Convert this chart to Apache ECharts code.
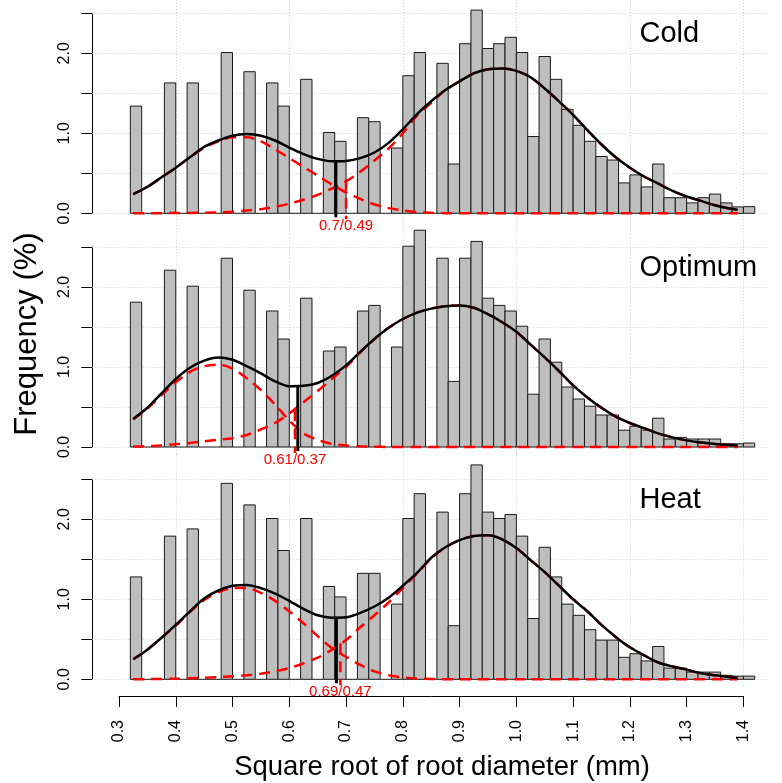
<!DOCTYPE html>
<html>
<head>
<meta charset="utf-8">
<script src="https://cdn.jsdelivr.net/npm/echarts@6/dist/echarts.min.js"></script>
<style>
  html, body { margin: 0; padding: 0; background: #ffffff; }
  #chart { width: 782px; height: 783px; }
</style>
</head>
<body>
<div id="chart"></div>
<script>
// Histogram bin edges (square root of root diameter, mm)
const binEdges = [
  0.32, 0.34, 0.36, 0.38, 0.40, 0.42, 0.44, 0.46, 0.48, 0.50,
  0.52, 0.54, 0.56, 0.58, 0.60, 0.62, 0.64, 0.66, 0.68, 0.70,
  0.72, 0.74, 0.76, 0.78, 0.80, 0.82, 0.84, 0.86, 0.88, 0.90,
  0.92, 0.94, 0.96, 0.98, 1.00, 1.02, 1.04, 1.06, 1.08, 1.10,
  1.12, 1.14, 1.16, 1.18, 1.20, 1.22, 1.24, 1.26, 1.28, 1.30,
  1.32, 1.34, 1.36, 1.38, 1.40, 1.42
];

// Frequency (%) per bin
const coldFreq = [
  1.34, 0, 0, 1.63, 0, 1.63, 0, 0, 2.01, 0,
  1.77, 0, 1.63, 1.34, 0, 1.675, 0, 1.01, 0.90, 0,
  1.195, 1.145, 0, 0.816, 1.72, 2.01, 0, 1.875, 0.616, 2.12,
  2.54, 2.06, 2.12, 2.20, 2.01, 0.96, 1.96, 1.675, 1.30, 1.10,
  0.90, 0.71, 0.666, 0.38, 0.48, 0.33, 0.616, 0.195, 0.195, 0.13,
  0.195, 0.24, 0.13, 0.08, 0.083
];
const optimumFreq = [
  1.81, 0, 0, 2.21, 0, 2.01, 0, 0, 2.36, 0,
  1.96, 0, 1.70, 1.35, 0, 1.86, 0, 1.20, 1.25, 0,
  1.70, 1.77, 0, 1.25, 2.51, 2.71, 0, 2.36, 0.82, 2.36,
  2.57, 1.86, 1.77, 1.70, 1.51, 0.66, 1.35, 1.06, 0.75, 0.60,
  0.51, 0.40, 0.40, 0.21, 0.26, 0.21, 0.36, 0.10, 0.12, 0.10,
  0.10, 0.10, 0.04, 0.04, 0.05
];
const heatFreq = [
  1.28, 0, 0, 1.79, 0, 1.88, 0, 0, 2.45, 0,
  2.18, 0, 2.01, 1.61, 0, 2.01, 0, 1.16, 1.03, 0,
  1.325, 1.325, 0, 0.94, 2.01, 2.32, 0, 2.09, 0.67, 2.32,
  2.68, 2.09, 2.01, 2.06, 1.79, 0.76, 1.65, 1.28, 0.94, 0.80,
  0.62, 0.49, 0.49, 0.275, 0.32, 0.23, 0.41, 0.14, 0.14, 0.09,
  0.09, 0.09, 0.05, 0.04, 0.04
];

// Fitted density curves, sampled along the diameter axis
const curveX = [
  0.325, 0.35, 0.375, 0.40, 0.425, 0.45, 0.475, 0.50, 0.525, 0.55, 0.575,
  0.60, 0.625, 0.65, 0.675, 0.70, 0.725, 0.75, 0.775, 0.80, 0.825, 0.85,
  0.875, 0.90, 0.925, 0.95, 0.975, 1.00, 1.025, 1.05, 1.075, 1.10, 1.125,
  1.15, 1.175, 1.20, 1.225, 1.25, 1.275, 1.30, 1.325, 1.35, 1.375, 1.39
];

const coldTotal = [
  0.24, 0.33, 0.45, 0.57, 0.70, 0.83, 0.91, 0.97, 0.99, 0.97, 0.91,
  0.82, 0.74, 0.68, 0.65, 0.655, 0.69, 0.76, 0.88, 1.05, 1.24, 1.40,
  1.54, 1.65, 1.75, 1.80, 1.81, 1.78, 1.70, 1.56, 1.40, 1.23, 1.04,
  0.86, 0.70, 0.57, 0.46, 0.37, 0.28, 0.21, 0.155, 0.10, 0.06, 0.045
];
const coldFine = [
  0.24, 0.33, 0.45, 0.57, 0.70, 0.82, 0.90, 0.95, 0.95, 0.90, 0.80,
  0.69, 0.58, 0.47, 0.36, 0.26, 0.18, 0.11, 0.065, 0.035, 0.015, 0.006,
  0.002, 0, 0, 0, 0, 0, 0, 0, 0, 0, 0,
  0, 0, 0, 0, 0, 0, 0, 0, 0, 0, 0
];
const coldCoarse = [
  0, 0, 0.002, 0.003, 0.005, 0.008, 0.012, 0.02, 0.035, 0.05, 0.08,
  0.12, 0.17, 0.23, 0.31, 0.40, 0.52, 0.66, 0.81, 1.00, 1.22, 1.38,
  1.54, 1.65, 1.75, 1.80, 1.81, 1.78, 1.70, 1.56, 1.40, 1.23, 1.04,
  0.86, 0.70, 0.57, 0.46, 0.37, 0.28, 0.21, 0.155, 0.10, 0.06, 0.045
];

const optimumTotal = [
  0.35, 0.49, 0.67, 0.85, 0.99, 1.08, 1.12, 1.09, 1.01, 0.92, 0.82,
  0.76, 0.765, 0.80, 0.89, 1.02, 1.19, 1.35, 1.49, 1.60, 1.68, 1.73,
  1.76, 1.77, 1.74, 1.66, 1.56, 1.44, 1.28, 1.12, 0.95, 0.77, 0.62,
  0.49, 0.38, 0.30, 0.235, 0.17, 0.12, 0.083, 0.055, 0.038, 0.025, 0.02
];
const optimumFine = [
  0.345, 0.48, 0.65, 0.81, 0.94, 1.01, 1.03, 0.98, 0.86, 0.71, 0.53,
  0.33, 0.17, 0.09, 0.04, 0.018, 0.008, 0.003, 0.001, 0, 0, 0,
  0, 0, 0, 0, 0, 0, 0, 0, 0, 0, 0,
  0, 0, 0, 0, 0, 0, 0, 0, 0, 0, 0
];
const optimumCoarse = [
  0.005, 0.01, 0.018, 0.035, 0.05, 0.07, 0.09, 0.11, 0.15, 0.22, 0.30,
  0.42, 0.56, 0.70, 0.85, 1.00, 1.18, 1.35, 1.49, 1.60, 1.68, 1.73,
  1.76, 1.77, 1.74, 1.66, 1.56, 1.44, 1.28, 1.12, 0.95, 0.77, 0.62,
  0.49, 0.38, 0.30, 0.235, 0.17, 0.12, 0.083, 0.055, 0.038, 0.025, 0.02
];

const heatTotal = [
  0.25, 0.37, 0.52, 0.68, 0.85, 1.01, 1.11, 1.17, 1.18, 1.14, 1.07,
  0.98, 0.88, 0.80, 0.77, 0.775, 0.83, 0.91, 1.02, 1.17, 1.33, 1.52,
  1.65, 1.74, 1.79, 1.80, 1.75, 1.64, 1.49, 1.34, 1.17, 1.00, 0.85,
  0.68, 0.53, 0.40, 0.30, 0.21, 0.16, 0.12, 0.075, 0.05, 0.03, 0.015
];
const heatFine = [
  0.25, 0.37, 0.52, 0.67, 0.84, 0.99, 1.09, 1.14, 1.14, 1.08, 0.98,
  0.85, 0.70, 0.54, 0.39, 0.28, 0.18, 0.10, 0.05, 0.025, 0.01, 0.005,
  0, 0, 0, 0, 0, 0, 0, 0, 0, 0, 0,
  0, 0, 0, 0, 0, 0, 0, 0, 0, 0, 0
];
const heatCoarse = [
  0.001, 0.002, 0.004, 0.007, 0.012, 0.018, 0.027, 0.038, 0.05, 0.07, 0.10,
  0.14, 0.20, 0.27, 0.37, 0.49, 0.65, 0.80, 0.96, 1.14, 1.32, 1.51,
  1.65, 1.74, 1.79, 1.80, 1.75, 1.64, 1.49, 1.34, 1.17, 1.00, 0.85,
  0.68, 0.53, 0.40, 0.30, 0.21, 0.16, 0.12, 0.075, 0.05, 0.03, 0.015
];

// Panel names and the fine/coarse root threshold of each treatment
const panelNames = ['Cold', 'Optimum', 'Heat'];
const cutSqrt = [0.7, 0.61, 0.69];
const cutDiam = [0.49, 0.37, 0.47];
const cutReach = [0.42, 0.46, 0.45];
const dipX = [0.682, 0.615, 0.683];
const dipY = [0.645, 0.76, 0.77];

// Axis ticks and reference grid
const xTickMin = 0.3, xTickMax = 1.4, xTickStep = 0.1;
const yTickMax = 2.5, yTickStep = 0.5;
const gridX = [0.4, 0.6, 0.8, 1.0, 1.2, 1.4];
const gridY = [0, 0.5, 1.0, 1.5, 2.0, 2.5];

const freqs = [coldFreq, optimumFreq, heatFreq];
const totals = [coldTotal, optimumTotal, heatTotal];
const fines = [coldFine, optimumFine, heatFine];
const coarses = [coldCoarse, optimumCoarse, heatCoarse];

// ---- layout ----
const FONT = '"Liberation Sans", Arial, Helvetica, sans-serif';
const PX_PER_Y = 80;            // pixels per 1 % of frequency
const baseY = [213.3, 447, 679.3];
const panelTop = [2.666, 2.81, 2.81];
const panelBottom = -0.11;
const plotLeft = 92.3, plotWidth = 676.1;
const xMin = 0.253, xMax = 1.444;
const bottomAxisY = 696;

const grids = [], xAxes = [], yAxes = [], series = [];

for (let p = 0; p < 3; p++) {
  const top = baseY[p] - panelTop[p] * PX_PER_Y;
  const height = (panelTop[p] - panelBottom) * PX_PER_Y;
  grids.push({ left: plotLeft, width: plotWidth, top: top, height: height });
  xAxes.push({ type: 'value', gridIndex: p, min: xMin, max: xMax, show: false });
  yAxes.push({ type: 'value', gridIndex: p, min: panelBottom, max: panelTop[p], show: false });
}
// left axes spanning 0..2.5 for each panel
for (let p = 0; p < 3; p++) {
  grids.push({ left: plotLeft, width: 1, top: baseY[p] - yTickMax * PX_PER_Y, height: yTickMax * PX_PER_Y });
  xAxes.push({ type: 'value', gridIndex: 3 + p, min: 0, max: 1, show: false });
  yAxes.push({
    type: 'value', gridIndex: 3 + p, min: 0, max: yTickMax, interval: yTickStep,
    axisLine: { show: true, lineStyle: { color: '#000', width: 1 } },
    axisTick: { show: true, length: 11, lineStyle: { color: '#000', width: 1 } },
    splitLine: { show: false },
    axisLabel: {
      rotate: 90, margin: 20, color: '#000', fontSize: 16, fontFamily: FONT,
      formatter: v => (Math.abs(v - Math.round(v)) < 1e-6 ? v.toFixed(1) : '')
    }
  });
}
// shared bottom axis
grids.push({ left: 119, right: 782 - 743.5, top: bottomAxisY - 6, height: 6 });
xAxes.push({
  type: 'value', gridIndex: 6, min: xTickMin, max: xTickMax, interval: xTickStep,
  axisLine: { show: true, onZero: false, lineStyle: { color: '#000', width: 1 } },
  axisTick: { show: true, length: 11, lineStyle: { color: '#000', width: 1 } },
  splitLine: { show: false },
  axisLabel: {
    rotate: 90, margin: 24, color: '#000', fontSize: 16, fontFamily: FONT,
    formatter: v => v.toFixed(1)
  }
});
yAxes.push({ type: 'value', gridIndex: 6, min: 0, max: 1, show: false });

// dotted reference lines spanning the whole plotting region
function renderGridLine(params, api) {
  const cs = params.coordSys;
  const v = api.value(0), horizontal = api.value(1) === 1;
  const style = { stroke: '#D3D3D3', lineWidth: 1, lineDash: [1, 2] };
  if (horizontal) {
    const y = Math.round(api.coord([xMin, v])[1]) + 0.5;
    return { type: 'line', shape: { x1: cs.x, y1: y, x2: cs.x + cs.width, y2: y }, style };
  }
  const x = Math.round(api.coord([v, 0])[0]) + 0.5;
  return { type: 'line', shape: { x1: x, y1: cs.y, x2: x, y2: cs.y + cs.height }, style };
}

function renderBin(params, api) {
  const lo = api.value(0), hi = api.value(1), f = api.value(2);
  const a = api.coord([lo, f]);
  const b = api.coord([hi, 0]);
  if (!(f > 0)) {
    return { type: 'line', shape: { x1: a[0], y1: b[1], x2: b[0], y2: b[1] },
             style: { stroke: '#1a1a1a', lineWidth: 1 } };
  }
  return {
    type: 'rect',
    shape: { x: a[0], y: a[1], width: b[0] - a[0], height: b[1] - a[1] },
    style: { fill: '#BEBEBE', stroke: '#1a1a1a', lineWidth: 1 }
  };
}

function makeCutRenderer(label) {
  return function (params, api) {
    const dTop = api.coord([api.value(0), api.value(1)]);
    const dBot = api.coord([api.value(0), 0]);
    const cTop = api.coord([api.value(2), api.value(3)]);
    const cBot = api.coord([api.value(2), 0]);
    return {
      type: 'group',
      children: [
        { type: 'line', shape: { x1: dTop[0], y1: dTop[1], x2: dBot[0], y2: dBot[1] + 4 },
          style: { stroke: '#000', lineWidth: 3 } },
        { type: 'line', shape: { x1: cTop[0], y1: cTop[1], x2: cBot[0], y2: cBot[1] + 6 },
          style: { stroke: '#FF0000', lineWidth: 2.5, lineDash: [11, 7] } },
        { type: 'text', x: cBot[0], y: cBot[1] + 13,
          style: { text: label, fill: '#FF0000', font: '15px ' + FONT,
                   align: 'center', verticalAlign: 'middle' } }
      ]
    };
  };
}

for (let p = 0; p < 3; p++) {
  // reference grid beneath the bars
  series.push({
    type: 'custom', xAxisIndex: p, yAxisIndex: p, z: 1, silent: true, clip: false,
    renderItem: renderGridLine,
    data: gridX.map(v => [v, 0]).concat(gridY.map(v => [v, 1]))
  });
  // histogram
  series.push({
    type: 'custom', xAxisIndex: p, yAxisIndex: p, z: 2, clip: false,
    renderItem: renderBin,
    encode: { x: [0, 1], y: 2 },
    data: freqs[p].map((f, i) => [binEdges[i], binEdges[i + 1], f])
  });
  // mixture components
  [fines[p], coarses[p]].forEach(arr => {
    series.push({
      type: 'line', xAxisIndex: p, yAxisIndex: p, z: 3, smooth: 0.3,
      showSymbol: false, silent: true,
      lineStyle: { color: '#FF0000', width: 2.5, type: [11, 7] },
      data: curveX.map((x, i) => [x, arr[i]])
    });
  });
  // total density
  series.push({
    type: 'line', xAxisIndex: p, yAxisIndex: p, z: 4, smooth: 0.3,
    showSymbol: false, silent: true,
    lineStyle: { color: '#000', width: 2.5 },
    data: curveX.map((x, i) => [x, totals[p][i]])
  });
  // threshold marks and label
  series.push({
    type: 'custom', xAxisIndex: p, yAxisIndex: p, z: 5, clip: false,
    renderItem: makeCutRenderer(cutSqrt[p] + '/' + cutDiam[p]),
    encode: { x: [0, 2], y: [1, 3] },
    data: [[dipX[p], dipY[p], cutSqrt[p], cutReach[p]]]
  });
}

const graphics = [];
panelNames.forEach((name, p) => {
  graphics.push({
    type: 'text', x: 639.5, y: baseY[p] - 179,
    style: { text: name, font: '29px ' + FONT, fill: '#000', align: 'left', verticalAlign: 'middle' }
  });
});
graphics.push({
  type: 'text', x: 27, y: 334, rotation: Math.PI / 2,
  style: { text: 'Frequency (%)', font: '31px ' + FONT, fill: '#000', align: 'center', verticalAlign: 'middle' }
});
graphics.push({
  type: 'text', x: 442, y: 767,
  style: { text: 'Square root of root diameter (mm)', font: '27.5px ' + FONT, fill: '#000', align: 'center', verticalAlign: 'middle' }
});

const chart = echarts.init(document.getElementById('chart'), null, { renderer: 'canvas' });
chart.setOption({
  animation: false,
  backgroundColor: '#ffffff',
  grid: grids,
  xAxis: xAxes,
  yAxis: yAxes,
  series: series,
  graphic: graphics
});
</script>
</body>
</html>
